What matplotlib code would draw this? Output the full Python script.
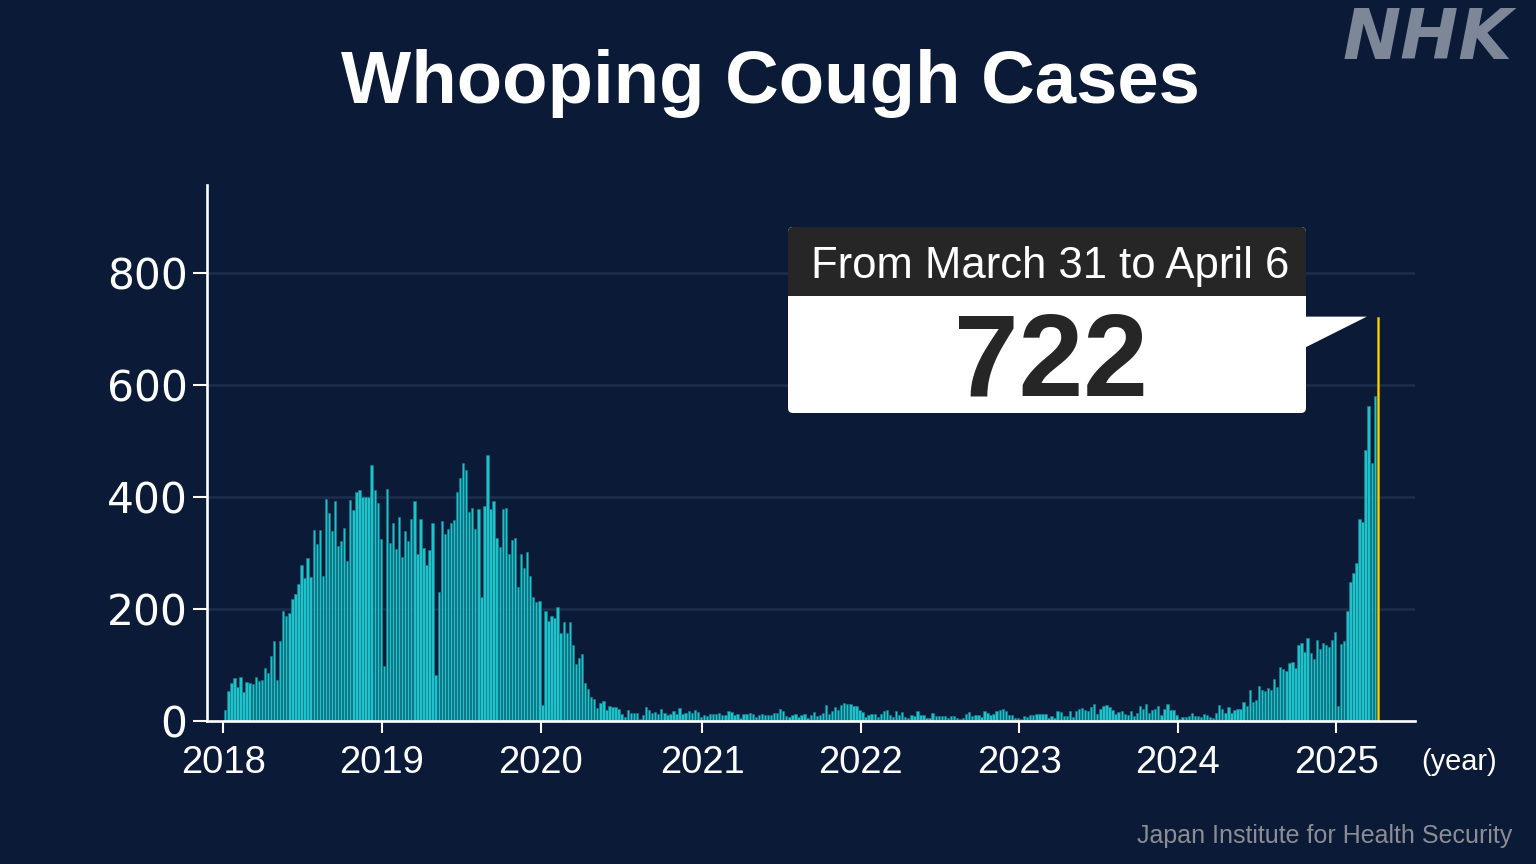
import numpy as np
import matplotlib
matplotlib.use("Agg")
import matplotlib.pyplot as plt
from matplotlib.patches import FancyBboxPatch, Polygon, Rectangle

# ---------------- data (weekly reported cases) ----------------
cases_2018 = [20, 54, 68, 76, 60, 79, 52, 70, 67, 66, 78, 72, 73, 94, 86, 116, 142, 74, 142, 197,
              188, 192, 217, 226, 245, 278, 256, 291, 257, 341, 316, 341, 259, 396, 371, 339, 392, 313, 321, 345,
              285, 395, 377, 408, 412, 400, 400, 400, 457, 412, 389, 325]
cases_2019 = [98, 415, 317, 353, 307, 365, 293, 340, 322, 360, 392, 298, 361, 308, 279, 306, 354, 82, 230, 357,
              334, 343, 354, 359, 408, 433, 461, 448, 373, 381, 343, 378, 222, 383, 475, 378, 392, 327, 311, 378,
              381, 299, 323, 327, 239, 299, 274, 301, 259, 222, 212, 214]
cases_2020 = [29, 196, 179, 188, 184, 204, 158, 176, 157, 177, 136, 102, 112, 120, 68, 57, 42, 39, 23, 33,
              36, 19, 27, 25, 25, 22, 12, 7, 19, 15, 14, 15, 4, 11, 25, 20, 15, 16, 12, 21,
              14, 11, 12, 17, 12, 23, 12, 15, 18, 15, 20, 16, 7]
cases_2021 = [11, 9, 13, 13, 13, 15, 11, 11, 18, 16, 10, 13, 5, 12, 13, 15, 13, 7, 10, 13,
              10, 10, 11, 15, 15, 22, 17, 9, 8, 10, 12, 8, 10, 12, 5, 10, 16, 9, 11, 15,
              29, 13, 17, 25, 20, 29, 32, 30, 30, 27, 27, 20]
cases_2022 = [16, 8, 11, 12, 12, 8, 13, 17, 19, 10, 7, 17, 10, 16, 7, 5, 11, 9, 17, 10,
              11, 6, 6, 14, 9, 9, 9, 9, 6, 9, 9, 6, 3, 6, 12, 16, 9, 10, 10, 7,
              17, 14, 11, 13, 17, 20, 21, 18, 11, 11, 6, 5]
cases_2023 = [4, 9, 8, 10, 10, 12, 13, 12, 12, 6, 9, 5, 18, 16, 9, 9, 17, 8, 18, 22,
              24, 20, 18, 25, 30, 13, 22, 27, 28, 25, 20, 13, 16, 18, 12, 11, 18, 9, 15, 27,
              21, 30, 14, 19, 22, 26, 10, 22, 30, 19, 20, 10]
cases_2024 = [4, 7, 8, 9, 15, 9, 9, 8, 13, 11, 7, 5, 15, 28, 22, 15, 25, 15, 20, 21,
              22, 34, 27, 56, 34, 38, 63, 56, 54, 59, 56, 75, 61, 97, 93, 90, 104, 106, 94, 135,
              140, 124, 148, 121, 110, 145, 128, 140, 136, 132, 145, 159]
cases_2025 = [27, 137, 142, 197, 249, 264, 282, 360, 355, 484, 563, 460, 580, 722]

year_labels = ["2018", "2019", "2020", "2021", "2022", "2023", "2024", "2025"]
y_ticks = [0, 200, 400, 600, 800]
title_text = "Whooping Cough Cases"
callout_period = "From March 31 to April 6"
unit_text = "(year)"
source_text = "Japan Institute for Health Security"
logo_text = "NHK"

# ---------------- assemble ----------------
per_year = [cases_2018, cases_2019, cases_2020, cases_2021,
            cases_2022, cases_2023, cases_2024, cases_2025]
values = np.concatenate([np.array(v, dtype=float) for v in per_year])
xpos = np.arange(len(values))
year_starts = np.cumsum([0] + [len(v) for v in per_year[:-1]])
latest_value = int(values[-1])

W, H = 1536, 864
BG = "#0b1a37"
GRID = "#1d2d4c"
CYAN = "#1fc2ca"
CYAN_EDGE = "#0f7f8c"
YELLOW = "#f3d500"
YELLOW_EDGE = "#d9a400"
DARK = "#262626"

plt.rcParams["font.family"] = ["Liberation Sans", "DejaVu Sans"]

fig = plt.figure(figsize=(W / 100, H / 100), dpi=100)
fig.patch.set_facecolor(BG)

# main axes placed in pixel terms
ax_left, ax_right, ax_top, ax_bottom = 207, 1415, 185, 721
ax = fig.add_axes([ax_left / W, 1 - ax_bottom / H,
                   (ax_right - ax_left) / W, (ax_bottom - ax_top) / H])
ax.set_facecolor(BG)

colors = [CYAN] * (len(values) - 1) + [YELLOW]
edges = [CYAN_EDGE] * (len(values) - 1) + [YELLOW_EDGE]
ax.bar(xpos, values, width=0.78, color=colors, edgecolor=edges,
       linewidth=0.45, zorder=3)

ax.set_xlim(-6.0, 390.2)
ax.set_ylim(0, 957)

for yv in y_ticks[1:]:
    ax.axhline(yv, color=GRID, lw=1.9, zorder=1)

for s in ["top", "right"]:
    ax.spines[s].set_visible(False)
for s in ["left", "bottom"]:
    ax.spines[s].set_color("white")
    ax.spines[s].set_linewidth(1.9)
    ax.spines[s].set_zorder(5)

ax.set_yticks(y_ticks)
ax.set_yticklabels([str(v) for v in y_ticks], fontfamily="DejaVu Sans")
ax.tick_params(axis="y", length=10, width=1.5, color="white",
               labelcolor="white", labelsize=30.5, pad=4)

ax.set_xticks(year_starts - 0.6)
ax.set_xticklabels(year_labels)
ax.tick_params(axis="x", length=8.5, width=1.5, color="white",
               labelcolor="white", labelsize=27.5, pad=9)

# overlay axes in pixel coordinates (y downward)
ov = fig.add_axes([0, 0, 1, 1], zorder=10)
ov.set_xlim(0, W)
ov.set_ylim(H, 0)
ov.axis("off")
ov.patch.set_visible(False)

renderer = fig.canvas.get_renderer()


def fit_width(t, target_px):
    bb = t.get_window_extent(renderer)
    t.set_fontsize(t.get_fontsize() * target_px / bb.width)


# title
t_title = ov.text(770, 103, title_text, color="white", fontsize=55,
                  fontweight="bold", ha="center", va="baseline")
fit_width(t_title, 860)

# logo
t_logo = ov.text(1343, 59, logo_text, color="#7e8798", fontsize=48,
                 fontweight="bold", style="italic", family=["DejaVu Sans"],
                 ha="left", va="baseline")
fit_width(t_logo, 170)

# unit label
t_unit = ov.text(1459, 770, unit_text, color="white", fontsize=20,
                 family=["Liberation Sans Narrow", "Liberation Sans"],
                 ha="center", va="baseline")
fit_width(t_unit, 76)

# source
t_src = ov.text(1512, 843, source_text, color="#8a8d93", fontsize=22,
                family=["Liberation Sans Narrow", "Liberation Sans"],
                ha="right", va="baseline")
fit_width(t_src, 374)

# callout box
bx0, bx1, by0, bsplit, by1 = 788, 1306, 227, 296, 413
ov.add_patch(FancyBboxPatch((bx0, by0), bx1 - bx0, by1 - by0,
                            boxstyle="round,pad=0,rounding_size=5",
                            fc="white", ec="none", zorder=2))
ov.add_patch(FancyBboxPatch((bx0, by0), bx1 - bx0, bsplit - by0 + 6,
                            boxstyle="round,pad=0,rounding_size=5",
                            fc=DARK, ec="none", zorder=3))
ov.add_patch(Rectangle((bx0, bsplit), bx1 - bx0, 10, fc="white",
                       ec="none", zorder=4))

# pointer triangle from box to top of the latest bar
disp = ax.transData.transform((xpos[-1] - 3.6, latest_value))
tip_x, tip_y = disp[0], H - disp[1]
ov.add_patch(Polygon([(bx1 - 1, tip_y), (tip_x, tip_y), (bx1 - 1, tip_y + 31)],
                     closed=True, fc="white", ec="none", zorder=2))

t_head = ov.text((bx0 + bx1) / 2 + 3, 278, callout_period, color="white",
                 fontsize=30, ha="center", va="baseline", zorder=6)
fit_width(t_head, 477)

t_val = ov.text(1051, 396, f"{latest_value}", color=DARK, fontsize=80,
                fontweight="bold", ha="center", va="baseline", zorder=6)
fit_width(t_val, 194)

fig.savefig("out.png", dpi=100, facecolor=BG)
